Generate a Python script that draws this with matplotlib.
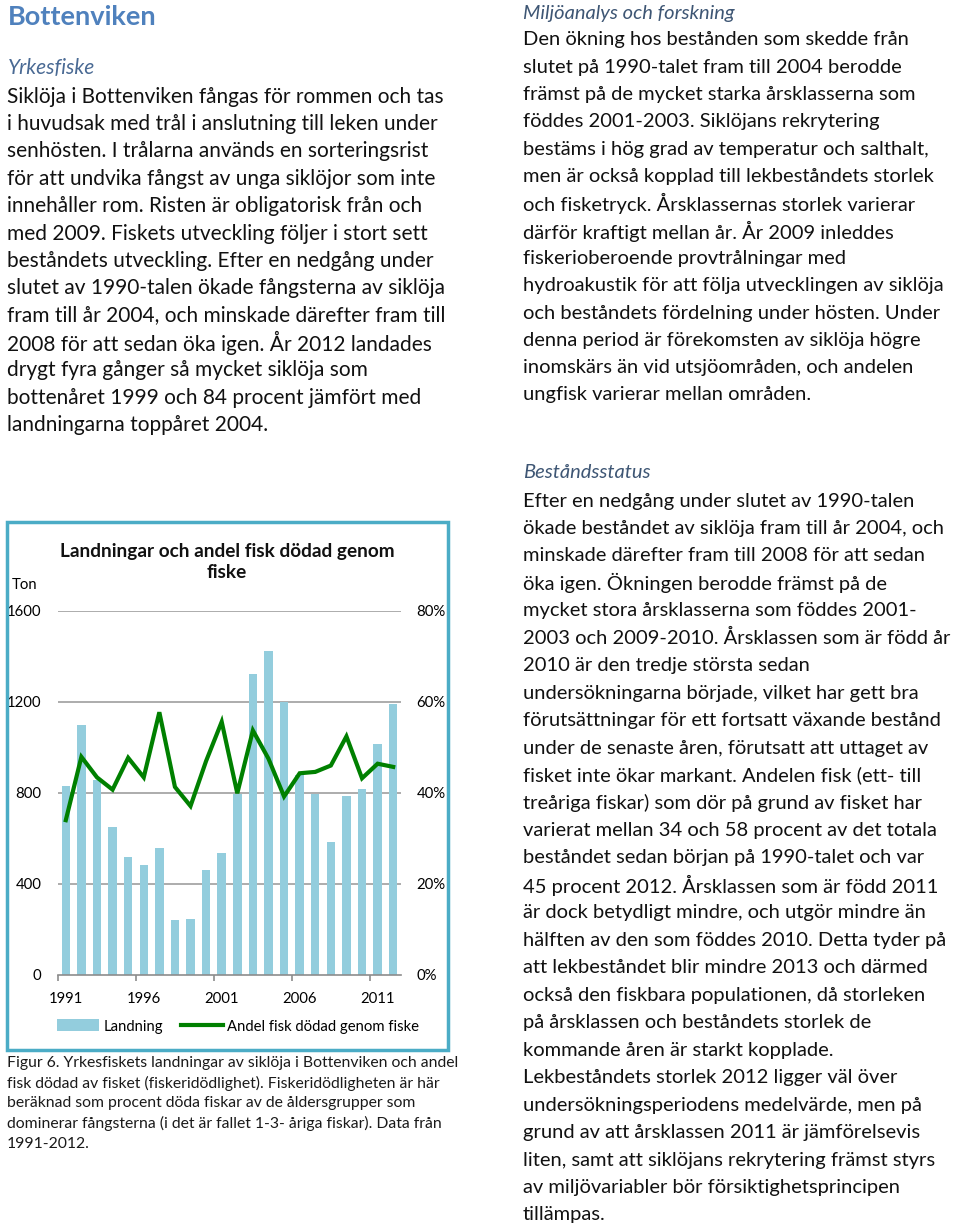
import matplotlib
matplotlib.use("Agg")
import matplotlib.pyplot as plt
from matplotlib.patches import Rectangle, Patch
from matplotlib.lines import Line2D
import numpy as np

# ---------------- data ----------------
years = list(range(1991, 2013))
landning = [828, 1100, 858, 652, 519, 482, 558, 242, 248, 463, 538, 797,
            1322, 1422, 1200, 879, 797, 586, 784, 817, 1014, 1190]
andel = [0.340, 0.479, 0.434, 0.407, 0.477, 0.434, 0.577, 0.413, 0.371, 0.470,
         0.556, 0.399, 0.537, 0.475, 0.392, 0.443, 0.446, 0.460, 0.524, 0.432,
         0.464, 0.457]
left_ticks = [0, 400, 800, 1200, 1600]
right_ticks = [0, 0.2, 0.4, 0.6, 0.8]
right_labels = ["0%", "20%", "40%", "60%", "80%"]
label_years = [1991, 1996, 2001, 2006, 2011]

chart_title = "Landningar och andel fisk dödad genom\nfiske"
legend_labels = ["Landning", "Andel fisk dödad genom fiske"]

left_par = [
    "Siklöja i Bottenviken fångas för rommen och tas",
    "i huvudsak med trål i anslutning till leken under",
    "senhösten. I trålarna används en sorteringsrist",
    "för att undvika fångst av unga siklöjor som inte",
    "innehåller rom. Risten är obligatorisk från och",
    "med 2009. Fiskets utveckling följer i stort sett",
    "beståndets utveckling. Efter en nedgång under",
    "slutet av 1990-talen ökade fångsterna av siklöja",
    "fram till år 2004, och minskade därefter fram till",
    "2008 för att sedan öka igen. År 2012 landades",
    "drygt fyra gånger så mycket siklöja som",
    "bottenåret 1999 och 84 procent jämfört med",
    "landningarna toppåret 2004.",
]
right_par1 = [
    "Den ökning hos bestånden som skedde från",
    "slutet på 1990-talet fram till 2004 berodde",
    "främst på de mycket starka årsklasserna som",
    "föddes 2001-2003. Siklöjans rekrytering",
    "bestäms i hög grad av temperatur och salthalt,",
    "men är också kopplad till lekbeståndets storlek",
    "och fisketryck. Årsklassernas storlek varierar",
    "därför kraftigt mellan år. År 2009 inleddes",
    "fiskerioberoende provtrålningar med",
    "hydroakustik för att följa utvecklingen av siklöja",
    "och beståndets fördelning under hösten. Under",
    "denna period är förekomsten av siklöja högre",
    "inomskärs än vid utsjöområden, och andelen",
    "ungfisk varierar mellan områden.",
]
right_par2 = [
    "Efter en nedgång under slutet av 1990-talen",
    "ökade beståndet av siklöja fram till år 2004, och",
    "minskade därefter fram till 2008 för att sedan",
    "öka igen. Ökningen berodde främst på de",
    "mycket stora årsklasserna som föddes 2001-",
    "2003 och 2009-2010. Årsklassen som är född år",
    "2010 är den tredje största sedan",
    "undersökningarna började, vilket har gett bra",
    "förutsättningar för ett fortsatt växande bestånd",
    "under de senaste åren, förutsatt att uttaget av",
    "fisket inte ökar markant. Andelen fisk (ett- till",
    "treåriga fiskar) som dör på grund av fisket har",
    "varierat mellan 34 och 58 procent av det totala",
    "beståndet sedan början på 1990-talet och var",
    "45 procent 2012. Årsklassen som är född 2011",
    "är dock betydligt mindre, och utgör mindre än",
    "hälften av den som föddes 2010. Detta tyder på",
    "att lekbeståndet blir mindre 2013 och därmed",
    "också den fiskbara populationen, då storleken",
    "på årsklassen och beståndets storlek de",
    "kommande åren är starkt kopplade.",
    "Lekbeståndets storlek 2012 ligger väl över",
    "undersökningsperiodens medelvärde, men på",
    "grund av att årsklassen 2011 är jämförelsevis",
    "liten, samt att siklöjans rekrytering främst styrs",
    "av miljövariabler bör försiktighetsprincipen",
    "tillämpas.",
]
caption = [
    "Figur 6. Yrkesfiskets landningar av siklöja i Bottenviken och andel",
    "fisk dödad av fisket (fiskeridödlighet). Fiskeridödligheten är här",
    "beräknad som procent döda fiskar av de åldersgrupper som",
    "dominerar fångsterna (i det är fallet 1-3- åriga fiskar). Data från",
    "1991-2012.",
]

# ---------------- figure ----------------
W, H = 960, 1227
plt.rcParams['font.family'] = ['Lato', 'DejaVu Sans']
fig = plt.figure(figsize=(W / 100, H / 100), dpi=100)
fig.patch.set_facecolor("white")

def fx(px):
    return px / W

def fy(py):
    return 1 - py / H

BODY_FS = 15.0
RIGHT_FS = 14.5
TXT = "#111111"
SUB_C = "#4A6A94"

def lines(xpx, y0, dy, items, fs=BODY_FS, color=TXT, **kw):
    for i, s in enumerate(items):
        fig.text(fx(xpx), fy(y0 + i * dy), s, fontsize=fs, color=color,
                 ha="left", va="center", **kw)

# left column
fig.text(fx(8), fy(17), "Bottenviken", fontsize=19.5, fontweight="bold",
         color="#4F81BD", ha="left", va="center")
fig.text(fx(8), fy(68), "Yrkesfiske", fontsize=BODY_FS, style="italic",
         color=SUB_C, ha="left", va="center")
lines(7, 96.7, 27.36, left_par)

# right column
fig.text(fx(523), fy(13), "Miljöanalys och forskning", fontsize=RIGHT_FS,
         style="italic", color="#3E5674", ha="left", va="center")
lines(523, 40, 27.3, right_par1, fs=RIGHT_FS)
fig.text(fx(523), fy(473), "Beståndsstatus", fontsize=RIGHT_FS,
         style="italic", color="#3E5674", ha="left", va="center")
lines(523, 501, 27.46, right_par2, fs=RIGHT_FS)

# caption
lines(7, 1063.5, 20, caption, fs=11.3, color="#1a1a1a")

# chart frame
fig.patches.append(Rectangle((fx(7), fy(1050)), fx(441), 528 / H,
                             transform=fig.transFigure, fill=False,
                             edgecolor="#4BACC6", linewidth=2.5, zorder=0))

# axes
ax = fig.add_axes([fx(58), fy(975), fx(343), (975 - 610.7) / H])
x = np.arange(len(years))
bar_c = "#93CDDD"
line_c = "#008000"
ax.bar(x, landning, width=0.54, color=bar_c, zorder=2)
ax.set_xlim(-0.5, len(years) - 0.5)
ax.set_ylim(0, 1600)
ax.set_yticks(left_ticks)
ax.set_yticklabels([str(v) for v in left_ticks])
for yv in left_ticks[1:]:
    ax.axhline(yv, color="#A6A6A6", linewidth=1.3, zorder=1)
for s in ["top", "right", "left"]:
    ax.spines[s].set_visible(False)
ax.spines["bottom"].set_color("#8C8C8C")
ax.spines["bottom"].set_linewidth(1.2)
ax.tick_params(axis="y", length=0, pad=12, labelsize=10.7)

idx = [years.index(y) for y in label_years]
ax.set_xticks(idx)
ax.set_xticklabels([str(y) for y in label_years])
ax.set_xticks([i - 0.5 for i in idx], minor=True)
ax.tick_params(axis="x", which="major", length=0, pad=12, labelsize=10.7)
ax.tick_params(axis="x", which="minor", length=4, width=1.2, color="#8C8C8C")

ax2 = ax.twinx()
ax2.plot(x, andel, color=line_c, linewidth=3.0, zorder=3,
         solid_joinstyle="miter")
ax2.set_ylim(0, 0.8)
ax2.set_yticks(right_ticks)
ax2.set_yticklabels(right_labels)
ax2.tick_params(axis="y", length=0, pad=11, labelsize=10.7)
for s in ["top", "right", "left", "bottom"]:
    ax2.spines[s].set_visible(False)

fig.text(fx(227), fy(562), chart_title, fontsize=13.7, fontweight="bold",
         ha="center", va="center", linespacing=1.3, color="#111111")
fig.text(fx(12), fy(585), "Ton", fontsize=10.7, ha="left", va="center")

handles = [Patch(facecolor=bar_c, edgecolor="none"),
           Line2D([0], [0], color=line_c, linewidth=3.0)]
fig.legend(handles, legend_labels, loc="center left",
           bbox_to_anchor=(fx(47), fy(1026.5)), ncol=2, frameon=False,
           fontsize=10.7, handlelength=2.8, handleheight=0.85,
           handletextpad=0.3, columnspacing=1.2, borderpad=0.2)

fig.savefig("out.png", dpi=100, facecolor="white")
